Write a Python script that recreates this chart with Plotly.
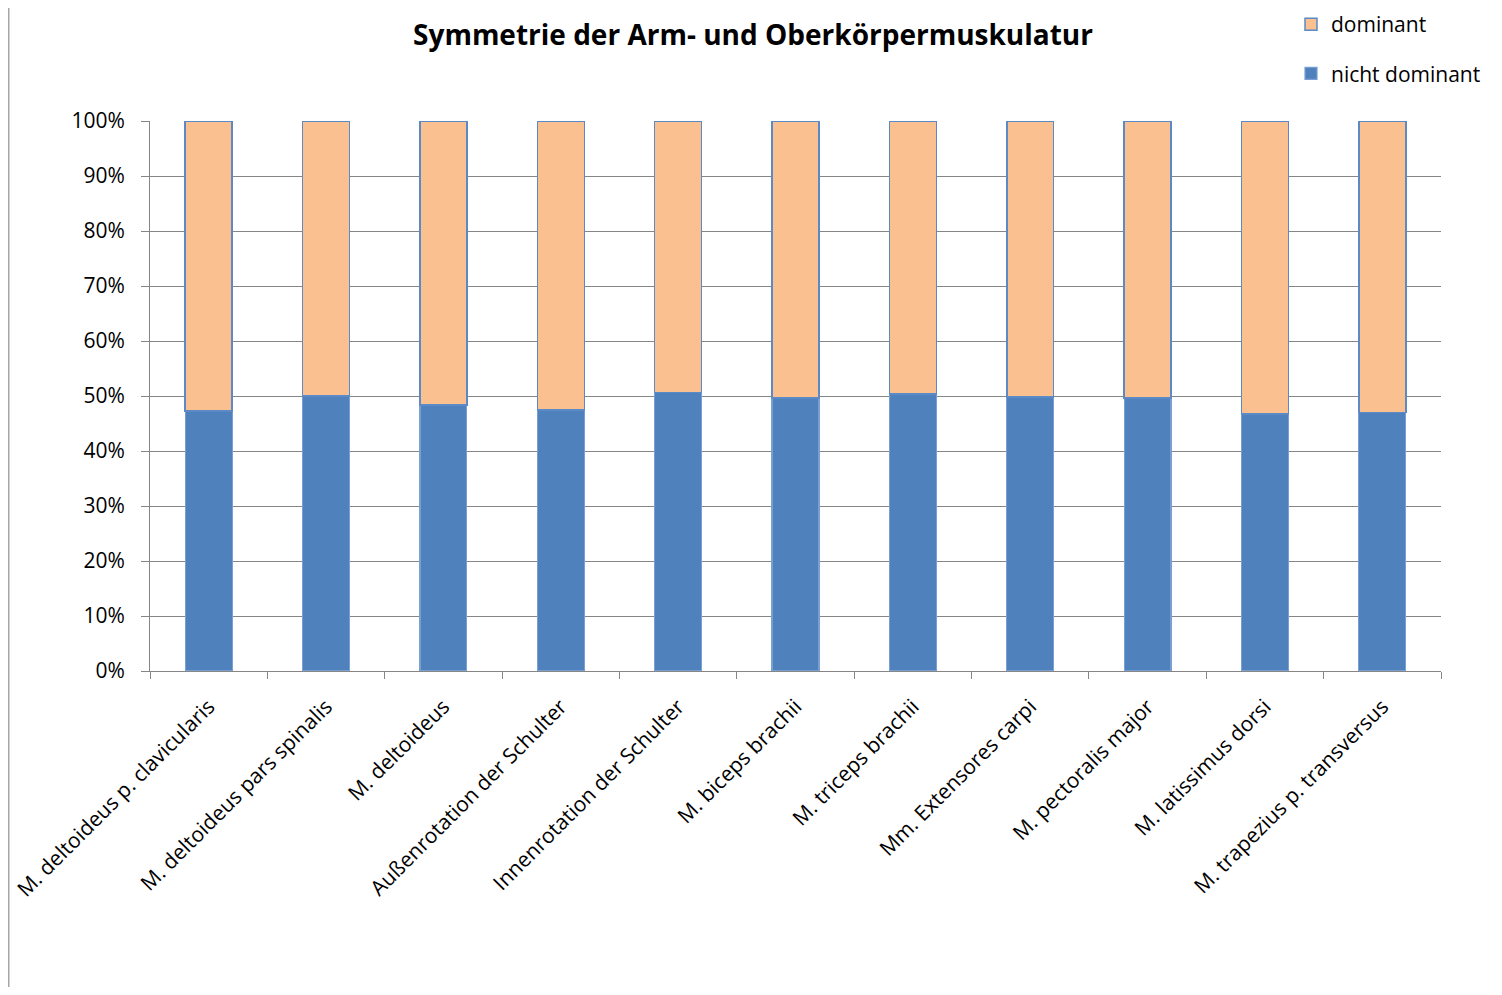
import plotly.graph_objects as go

categories = [
    "M. deltoideus p. clavicularis",
    "M. deltoideus pars spinalis",
    "M. deltoideus",
    "Außenrotation der Schulter",
    "Innenrotation der Schulter",
    "M. biceps brachii",
    "M. triceps brachii",
    "Mm. Extensores carpi",
    "M. pectoralis major",
    "M. latissimus dorsi",
    "M. trapezius p. transversus",
]
nicht_dominant = [47.3, 50.0, 48.4, 47.5, 50.6, 49.6, 50.4, 49.8, 49.6, 46.7, 47.0]
dominant = [round(100 - v, 1) for v in nicht_dominant]
y_ticks = [0, 10, 20, 30, 40, 50, 60, 70, 80, 90, 100]
y_tick_text = [f"{v}%" for v in y_ticks]

FONT = "Open Sans"
GRID = "#868686"

# page has an 8px body margin; figure is sized/placed to compensate
W, H = 1486, 979
L, T = 142, 113
PW, PH = 1291, 550

fig = go.Figure()
fig.add_trace(go.Bar(
    x=categories, y=nicht_dominant, name="nicht dominant",
    legendgroup="b", legendrank=2,
    marker=dict(color="#4F81BD", line=dict(color="#7A9FD3", width=1.2)),
))
fig.add_trace(go.Bar(
    x=categories, y=dominant, name="dominant",
    legendgroup="a", legendrank=1,
    marker=dict(color="#FAC090", line=dict(color="#5B8AC6", width=1.5)),
))

fig.update_layout(
    width=W, height=H,
    margin=dict(l=L, r=W - L - PW, t=T, b=H - T - PH, autoexpand=False),
    paper_bgcolor="white", plot_bgcolor="white",
    barmode="stack", bargap=0.6,
    font=dict(family=FONT, size=21, color="black"),
    title=dict(text="<b>Symmetrie der Arm- und Oberkörpermuskulatur</b>",
               x=745 / W, xref="container", xanchor="center",
               y=1 - 27 / H, yref="container", yanchor="middle",
               font=dict(family=FONT, size=28, color="black")),
    legend=dict(x=1283 / W, xanchor="left", xref="container",
                y=1 + (T + 4) / PH, yanchor="top", yref="paper",
                font=dict(family=FONT, size=21),
                tracegroupgap=19, bgcolor="rgba(0,0,0,0)",
                itemwidth=30),
    showlegend=True,
)
fig.update_yaxes(
    range=[0, 100], tickvals=y_ticks, ticktext=y_tick_text,
    showgrid=True, gridcolor=GRID, gridwidth=1,
    showline=True, linecolor=GRID, linewidth=1,
    ticks="outside", ticklen=8, tickcolor=GRID,
    zeroline=False, tickfont=dict(size=21), ticklabelstandoff=12,
)
fig.update_xaxes(
    tickangle=-45, tickson="boundaries",
    showline=True, linecolor=GRID, linewidth=1,
    ticks="outside", ticklen=7, tickcolor=GRID,
    showgrid=False, tickfont=dict(size=21), ticklabelstandoff=14,
)
# chart-area border on the left edge
fig.add_shape(type="line", xref="paper", yref="paper",
              x0=-(L - 0.75) / PW, x1=-(L - 0.75) / PW,
              y0=-(H - T - PH) / PH, y1=(PH + T) / PH,
              line=dict(color="#A6A6A6", width=1.5))

fig.write_html("out.html")
